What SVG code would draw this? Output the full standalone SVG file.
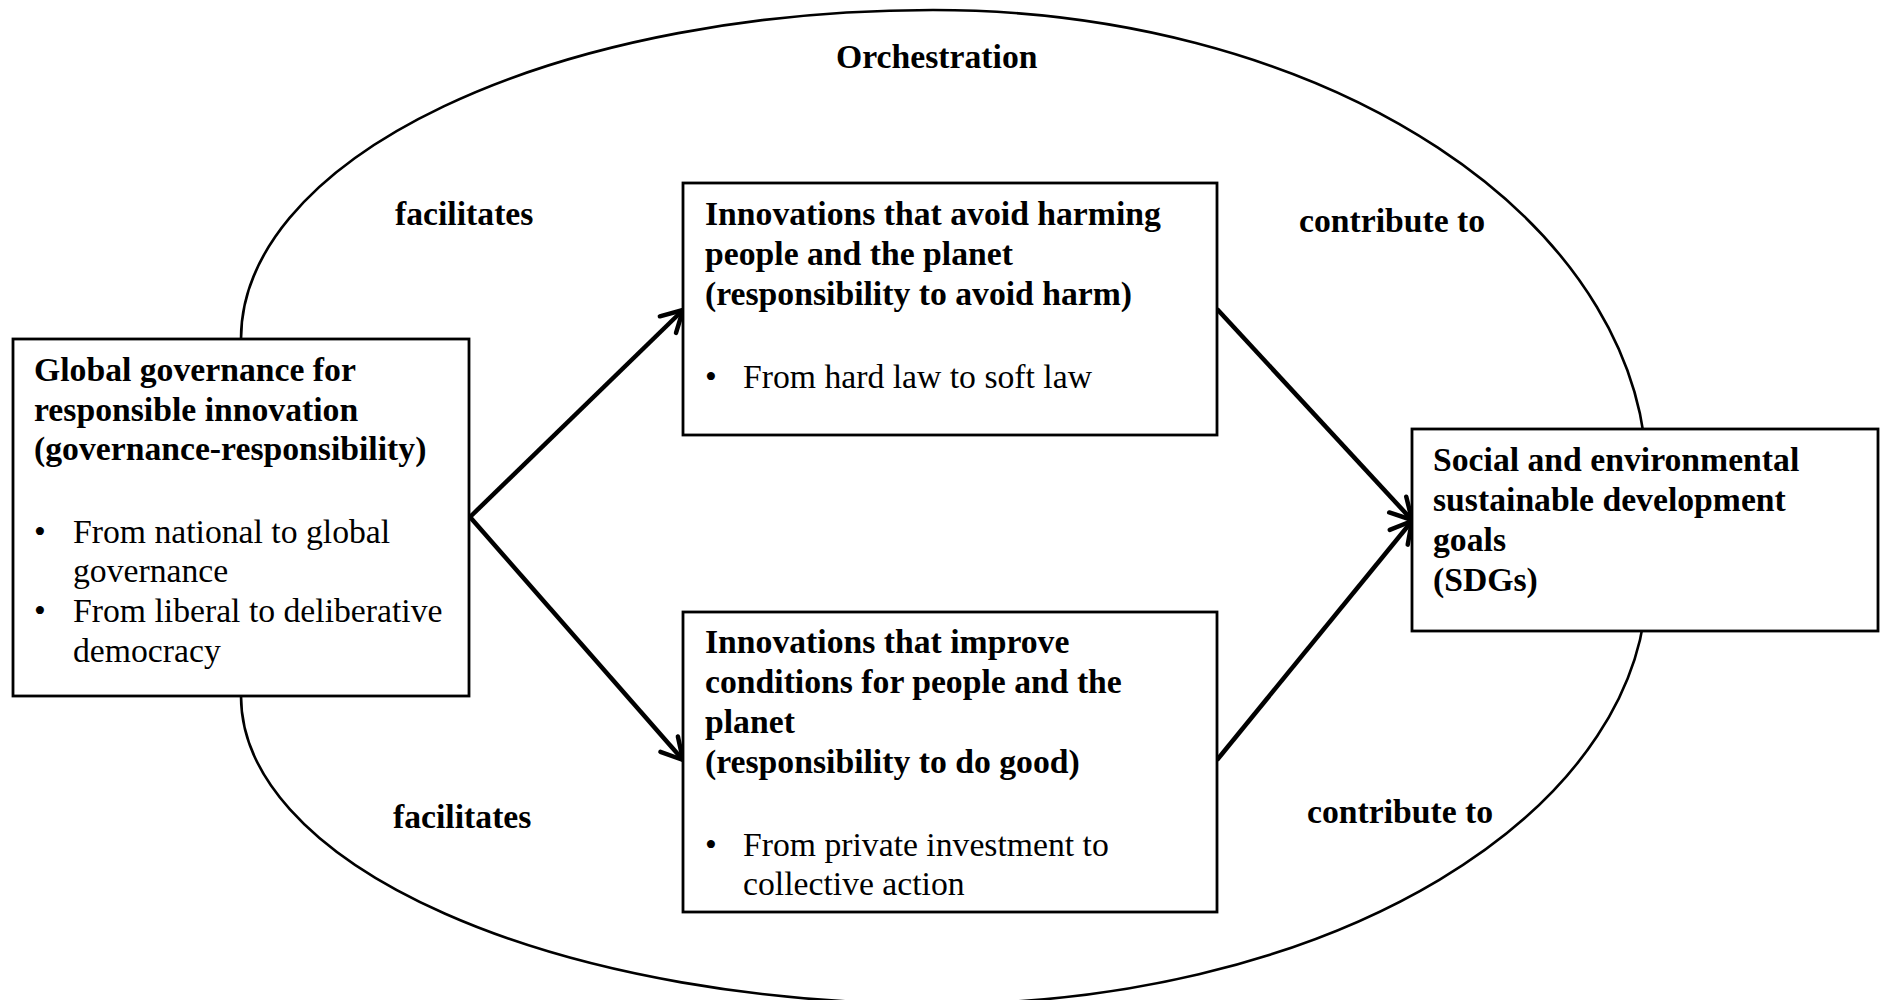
<svg xmlns="http://www.w3.org/2000/svg" width="1880" height="1000" viewBox="0 0 1880 1000">
<style>
.b{font-family:"Liberation Serif","Times New Roman",serif;font-size:33.7px;font-weight:bold;fill:#000}
.r{font-family:"Liberation Serif","Times New Roman",serif;font-size:33.7px;fill:#000}
.box{fill:#fff;stroke:#000;stroke-width:2.8}
.arr{fill:none;stroke:#000;stroke-width:4.5;marker-end:url(#ah)}
</style>
<defs>
<marker id="ah" markerUnits="userSpaceOnUse" orient="auto" overflow="visible" refX="0" refY="0" markerWidth="30" markerHeight="30">
<path d="M-21,-11.6 L0,0 L-21,11.6" fill="none" stroke="#000" stroke-width="4.5" stroke-linecap="round" stroke-linejoin="round"/>
</marker>
</defs>
<rect width="1880" height="1000" fill="#fff"/>
<g id="orchestration">
<path d="M933,10 A692,329 0 0 0 241,339 L241,696 A697,308 0 0 0 938,1004 A709,424 0 0 0 1647,580 L1647,480 A714,470 0 0 0 933,10 Z" fill="none" stroke="#000" stroke-width="2.6"/>
<text class="b" x="836" y="68">Orchestration</text>
</g>
<g id="connectors">
<line class="arr" x1="470" y1="517" x2="683" y2="310"/>
<line class="arr" x1="470" y1="517" x2="683" y2="760"/>
<line class="arr" x1="1217" y1="309" x2="1412" y2="520"/>
<line class="arr" x1="1217" y1="760" x2="1412" y2="521"/>
<text class="b" x="395" y="225">facilitates</text>
<text class="b" x="1299" y="232">contribute to</text>
<text class="b" x="393" y="828">facilitates</text>
<text class="b" x="1307" y="823">contribute to</text>
</g>
<g id="governance">
<rect class="box" x="13" y="339" width="456" height="357"/>
<text class="b" x="34" y="381">Global governance for</text>
<text class="b" x="34" y="421">responsible innovation</text>
<text class="b" x="34" y="460">(governance-responsibility)</text>
<text class="r" x="34" y="543">•</text>
<text class="r" x="73" y="543">From national to global</text>
<text class="r" x="73" y="582">governance</text>
<text class="r" x="34" y="622">•</text>
<text class="r" x="73" y="622">From liberal to deliberative</text>
<text class="r" x="73" y="662">democracy</text>
</g>
<g id="avoid-harm">
<rect class="box" x="683" y="183" width="534" height="252"/>
<text class="b" x="705" y="225">Innovations that avoid harming</text>
<text class="b" x="705" y="265">people and the planet</text>
<text class="b" x="705" y="305">(responsibility to avoid harm)</text>
<text class="r" x="705" y="388">•</text>
<text class="r" x="743" y="388">From hard law to soft law</text>
</g>
<g id="do-good">
<rect class="box" x="683" y="612" width="534" height="300"/>
<text class="b" x="705" y="653">Innovations that improve</text>
<text class="b" x="705" y="693">conditions for people and the</text>
<text class="b" x="705" y="733">planet</text>
<text class="b" x="705" y="773">(responsibility to do good)</text>
<text class="r" x="705" y="856">•</text>
<text class="r" x="743" y="856">From private investment to</text>
<text class="r" x="743" y="895">collective action</text>
</g>
<g id="sdgs">
<rect class="box" x="1412" y="429" width="466" height="202"/>
<text class="b" x="1433" y="471">Social and environmental</text>
<text class="b" x="1433" y="511">sustainable development</text>
<text class="b" x="1433" y="551">goals</text>
<text class="b" x="1433" y="591">(SDGs)</text>
</g>
</svg>
